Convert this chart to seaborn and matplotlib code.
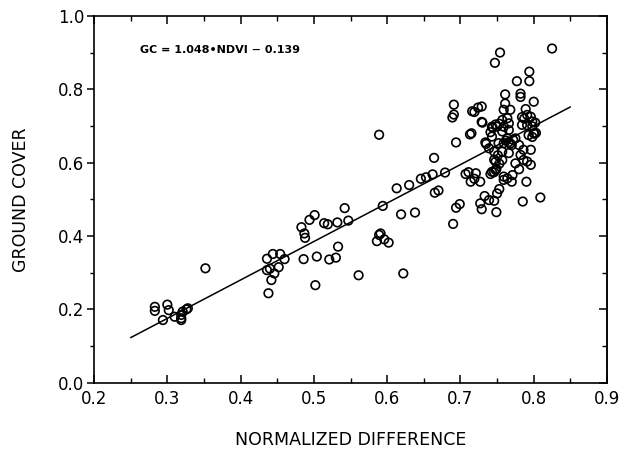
import matplotlib
matplotlib.use("Agg")
import matplotlib.pyplot as plt
import seaborn as sns
import numpy as np
import pandas as pd
from matplotlib.ticker import MultipleLocator

# ---- data ----
ndvi = [
    0.283, 0.283, 0.300, 0.302, 0.294, 0.310, 0.319, 0.319, 0.319, 0.321, 0.326, 0.328, 0.352,
    0.436, 0.444, 0.454, 0.460, 0.436, 0.440, 0.446, 0.452, 0.442, 0.438, 0.483, 0.494, 0.501,
    0.487, 0.488, 0.486, 0.504, 0.502, 0.514, 0.519, 0.521, 0.530, 0.533, 0.532, 0.542, 0.547,
    0.561, 0.589, 0.586, 0.594, 0.591, 0.596, 0.602, 0.589, 0.613, 0.630, 0.619, 0.638, 0.622,
    0.665, 0.670, 0.690, 0.694, 0.699, 0.646, 0.653, 0.662, 0.679, 0.664, 0.694, 0.713, 0.691,
    0.691, 0.689,
    0.714, 0.727, 0.729, 0.727, 0.733, 0.739, 0.746, 0.750, 0.753, 0.749, 0.770, 0.790, 0.785,
    0.809, 0.759,
    0.825, 0.754, 0.747, 0.794, 0.794, 0.777, 0.782, 0.782, 0.761, 0.800, 0.761, 0.759, 0.768,
    0.719, 0.724, 0.729, 0.716, 0.729, 0.715, 0.730, 0.789, 0.791, 0.784, 0.796, 0.798, 0.787,
    0.791, 0.798, 0.801, 0.798, 0.803, 0.764, 0.757, 0.766, 0.743, 0.750, 0.759, 0.744, 0.748,
    0.753, 0.741, 0.757, 0.766, 0.784, 0.802, 0.800, 0.793, 0.743, 0.734, 0.735, 0.739, 0.746,
    0.757, 0.766, 0.752, 0.759, 0.770, 0.780, 0.775, 0.764, 0.762, 0.768, 0.772, 0.766, 0.786,
    0.796, 0.782, 0.786, 0.775, 0.791, 0.796, 0.748, 0.757, 0.743, 0.748, 0.780, 0.771, 0.721,
    0.711, 0.719, 0.707, 0.746, 0.741, 0.749, 0.753, 0.759, 0.764, 0.746, 0.751,
]
ground_cover = [
    0.207, 0.196, 0.213, 0.198, 0.171, 0.180, 0.171, 0.176, 0.185, 0.194, 0.200, 0.203, 0.312,
    0.338, 0.351, 0.351, 0.337, 0.307, 0.311, 0.298, 0.315, 0.280, 0.244, 0.424, 0.444, 0.457,
    0.407, 0.395, 0.337, 0.344, 0.266, 0.435, 0.432, 0.336, 0.341, 0.371, 0.437, 0.476, 0.442,
    0.293, 0.403, 0.386, 0.482, 0.407, 0.391, 0.382, 0.676, 0.530, 0.539, 0.459, 0.464, 0.298,
    0.518, 0.524, 0.433, 0.477, 0.487, 0.556, 0.560, 0.568, 0.573, 0.613, 0.655, 0.677, 0.758,
    0.731, 0.723,
    0.548, 0.548, 0.473, 0.489, 0.509, 0.498, 0.496, 0.516, 0.528, 0.465, 0.548, 0.548, 0.494,
    0.505, 0.553,
    0.911, 0.900, 0.872, 0.848, 0.822, 0.822, 0.788, 0.779, 0.786, 0.766, 0.761, 0.744, 0.744,
    0.738, 0.750, 0.753, 0.740, 0.711, 0.680, 0.709, 0.746, 0.730, 0.724, 0.725, 0.712, 0.720,
    0.702, 0.699, 0.679, 0.670, 0.681, 0.721, 0.716, 0.707, 0.698, 0.698, 0.698, 0.695, 0.704,
    0.706, 0.683, 0.685, 0.689, 0.703, 0.709, 0.680, 0.675, 0.671, 0.655, 0.651, 0.639, 0.630,
    0.630, 0.626, 0.653, 0.653, 0.648, 0.648, 0.666, 0.666, 0.660, 0.652, 0.662, 0.656, 0.635,
    0.635, 0.621, 0.607, 0.598, 0.603, 0.594, 0.603, 0.607, 0.575, 0.580, 0.582, 0.566, 0.571,
    0.574, 0.556, 0.569, 0.574, 0.569, 0.583, 0.597, 0.562, 0.557, 0.608, 0.620,
]
fit_slope = 1.048
fit_intercept = -0.139
fit_x = [0.25, 0.85]
x_ticks = [0.2, 0.3, 0.4, 0.5, 0.6, 0.7, 0.8, 0.9]
y_ticks = [0.0, 0.2, 0.4, 0.6, 0.8, 1.0]
equation = "GC = 1.048\u2022NDVI \u2212 0.139"

df = pd.DataFrame({"ndvi": ndvi, "gc": ground_cover})
line_df = pd.DataFrame({"x": fit_x,
                        "y": [fit_slope * v + fit_intercept for v in fit_x]})

sns.set_style("ticks")
plt.rcParams["font.family"] = ["DejaVu Sans"]
plt.rcParams["text.color"] = "black"
plt.rcParams["axes.labelcolor"] = "black"
plt.rcParams["xtick.color"] = "black"
plt.rcParams["ytick.color"] = "black"

fig = plt.figure(figsize=(6.31, 4.53), dpi=100)
ax = fig.add_axes([0.149, 0.155, 0.813, 0.810])

sns.scatterplot(data=df, x="ndvi", y="gc", ax=ax, marker="o", s=38,
                facecolor="none", edgecolor="black", linewidth=1.2, legend=False)
sns.lineplot(data=line_df, x="x", y="y", ax=ax, color="black", linewidth=1.1,
             legend=False)

ax.set_xlim(0.2, 0.9)
ax.set_ylim(0.0, 1.0)
ax.set_xticks(x_ticks)
ax.set_xticklabels([f"{v:.1f}" for v in x_ticks])
ax.set_yticks(y_ticks)
ax.set_yticklabels([f"{v:.1f}" for v in y_ticks])
ax.xaxis.set_minor_locator(MultipleLocator(0.05))
ax.yaxis.set_minor_locator(MultipleLocator(0.1))

ax.tick_params(axis="x", which="both", direction="in", top=True, bottom=True,
               labelsize=12, pad=5, colors="black")
ax.tick_params(axis="x", which="major", length=6, width=1.1)
ax.tick_params(axis="x", which="minor", length=3.5, width=1.0)
ax.tick_params(axis="y", which="both", direction="out", left=True, right=False,
               labelsize=12, pad=2, colors="black")
ax.tick_params(axis="y", which="major", length=5, width=1.1)
ax.tick_params(axis="y", which="minor", length=3, width=1.0)

sec = ax.secondary_yaxis("right")
sec.set_yticks(y_ticks)
sec.yaxis.set_minor_locator(MultipleLocator(0.1))
sec.tick_params(axis="y", which="both", direction="in", labelright=False)
sec.tick_params(axis="y", which="major", length=6, width=1.1)
sec.tick_params(axis="y", which="minor", length=3.5, width=1.0)
sec.spines["right"].set_linewidth(1.2)

for sp in ax.spines.values():
    sp.set_visible(True)
    sp.set_linewidth(1.2)
    sp.set_color("black")

ax.set_xlabel("NORMALIZED DIFFERENCE", fontsize=12.5, labelpad=17)
ax.set_ylabel("GROUND COVER", fontsize=12.5, labelpad=20)

ax.text(0.263, 0.907, equation, fontsize=8, fontweight="bold",
        ha="left", va="center", color="black")

fig.savefig("out.png", dpi=100)
